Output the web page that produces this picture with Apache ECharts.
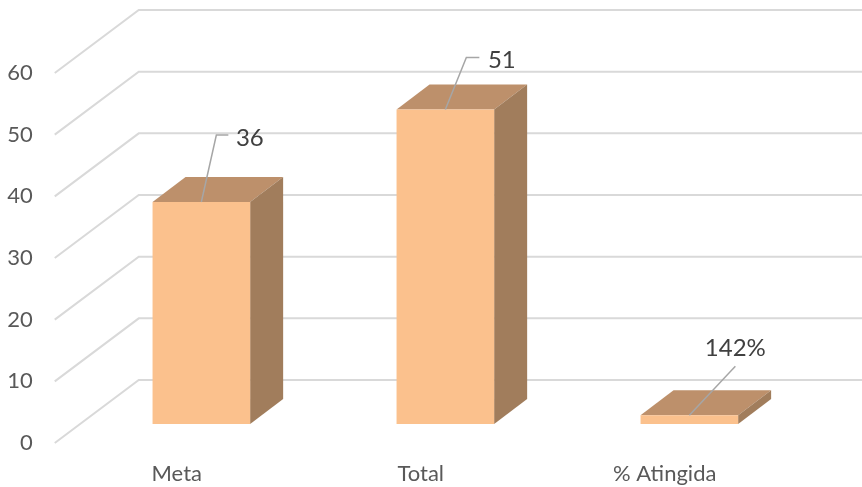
<!DOCTYPE html>
<html><head><meta charset="utf-8">
<style>html,body{margin:0;padding:0;background:#fff}#c{width:862px;height:487px}</style>
<script src="https://cdn.jsdelivr.net/npm/echarts@6/dist/echarts.min.js"></script>
</head><body><div id="c"></div>
<script>
const categories = ['Meta', 'Total', '% Atingida'];
const values = [36, 51, 1.42];
const valueLabels = ['36', '51', '142%'];
const yTicks = [0, 10, 20, 30, 40, 50, 60];

// depth of the floor and of the boxes, in pixels
const WALL = [84, -63], FLOOR = [25, -19], BOX = [33, -25], BAR_RATIO = 0.4;
// leader line bend and text anchor relative to the top-front centre of each box
const leaders = [
  {pts: [[15, -67], [27, -67]], text: [48.5, -64]},
  {pts: [[21, -52], [34, -52]], text: [56.5, -49]},
  {pts: [[46, -49]], text: [46, -67]}
];
const FONT = 'Lato, "Noto Sans", sans-serif';

function wall(params, api) {
  const v = api.value(0);
  const band = api.size([1, 0])[0];
  const a = api.coord([0, v]);
  const x0 = a[0] - band / 2, y0 = a[1];
  return {type: 'polyline', silent: true,
    shape: {points: [[x0, y0], [x0 + WALL[0], y0 + WALL[1]], [x0 + band * 3 + WALL[0], y0 + WALL[1]]]},
    style: {fill: null, stroke: '#d9d9d9', lineWidth: 2}};
}

function box(params, api) {
  const i = api.value(0), v = api.value(1);
  const base = api.coord([i, 0]), top = api.coord([i, v]);
  const w = api.size([1, 0])[0] * BAR_RATIO;
  const l = base[0] + FLOOR[0] - w / 2 - 0.4, r = l + w;
  const b = base[1] + FLOOR[1], t = top[1] + FLOOR[1];
  const dx = BOX[0], dy = BOX[1];
  const cx = (l + r) / 2;
  const L = leaders[i];
  const pts = [[cx, t]].concat(L.pts.map(p => [cx + p[0], t + p[1]]));
  return {type: 'group', children: [
    {type: 'polygon', shape: {points: [[l, t], [r, t], [r + dx, t + dy], [l + dx, t + dy]]},
      style: {fill: '#bd906b'}},
    {type: 'polygon', shape: {points: [[r, t], [r + dx, t + dy], [r + dx, b + dy], [r, b]]},
      style: {fill: '#a17d5c'}},
    {type: 'rect', shape: {x: l, y: t, width: w, height: b - t},
      style: {fill: '#fbc18d'}},
    {type: 'polyline', shape: {points: pts},
      style: {fill: null, stroke: '#a6a6a6', lineWidth: 1.5}},
    {type: 'text', x: cx + L.text[0], y: t + L.text[1],
      style: {text: valueLabels[i], fill: '#404040', font: '24px ' + FONT, align: 'center', verticalAlign: 'middle'}}
  ]};
}

const chart = echarts.init(document.getElementById('c'), null, {renderer: 'canvas'});
chart.setOption({
  animation: false,
  backgroundColor: '#ffffff',
  grid: {left: 54.75, right: 75.25, top: 73, bottom: 44},
  xAxis: {type: 'category', data: categories,
    axisLine: {show: false}, axisTick: {show: false}, splitLine: {show: false},
    axisLabel: {color: '#595959', fontFamily: FONT, fontSize: 22, margin: 20}},
  yAxis: {type: 'value', min: 0, max: 60, interval: 10,
    axisLine: {show: false}, axisTick: {show: false}, splitLine: {show: false},
    axisLabel: {color: '#595959', fontFamily: FONT, fontSize: 22, margin: 22, padding: [2, 0, 0, 0]}},
  series: [
    {type: 'custom', coordinateSystem: 'cartesian2d', clip: false, silent: true, z: 1,
      data: yTicks.map(v => [v]), encode: {y: 0}, renderItem: wall},
    {type: 'custom', coordinateSystem: 'cartesian2d', clip: false, silent: true, z: 2,
      data: values.map((v, i) => [i, v]), encode: {x: 0, y: 1}, renderItem: box}
  ]
});
</script></body></html>
